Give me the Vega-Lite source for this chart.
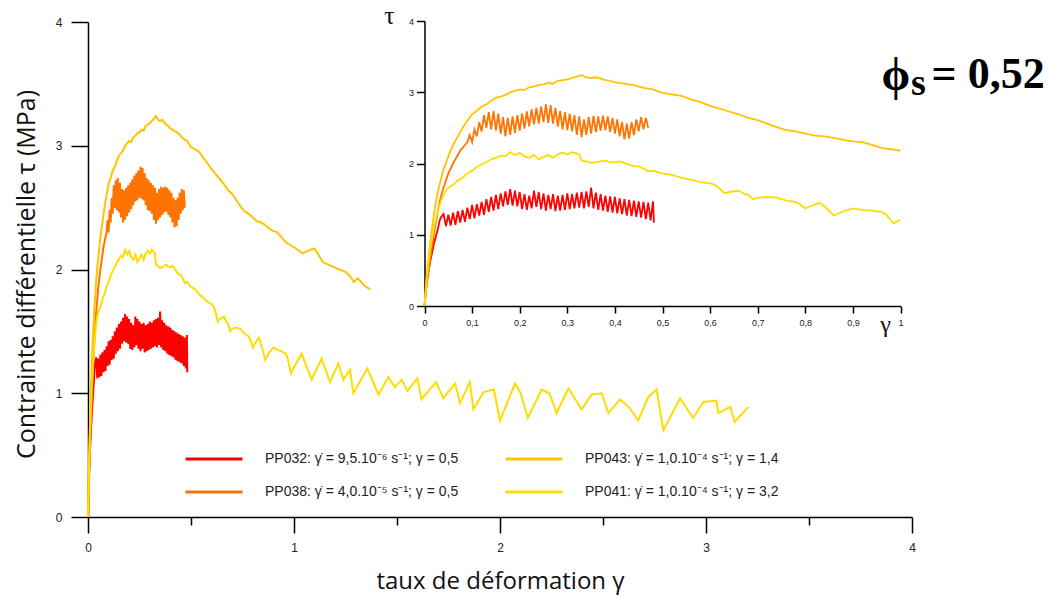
{
  "$schema": "https://vega.github.io/schema/vega-lite/v6.json",
  "width": 824,
  "height": 495,
  "autosize": "none",
  "padding": {"left": 88, "top": 22, "right": 140, "bottom": 81},
  "background": "white",
  "config": {
    "view": {"stroke": null},
    "axis": {"grid": false, "domainColor": "#000", "domainWidth": 1.5, "tickColor": "#000", "tickWidth": 1.5, "labelColor": "#222", "labelFont": "Liberation Sans", "titleColor": "#111"},
    "legend": {"labelFont": "Liberation Sans"}
  },
  "datasets": {
    "curves": [
      {"s":"PP032","g":0,"t":0},{"s":"PP032","g":0.004,"t":0.3},{"s":"PP032","g":0.008,"t":0.5},{"s":"PP032","g":0.012,"t":0.62},{"s":"PP032","g":0.016,"t":0.75},{"s":"PP032","g":0.02,"t":0.88},{"s":"PP032","g":0.024,"t":0.98},{"s":"PP032","g":0.028,"t":1.08},{"s":"PP032","g":0.032,"t":1.2},{"s":"PP032","g":0.035,"t":1.25},
      {"s":"PP032","g":0.04,"t":1.29},{"s":"PP032","g":0.045,"t":1.12},{"s":"PP032","g":0.05,"t":1.28},{"s":"PP032","g":0.055,"t":1.13},{"s":"PP032","g":0.06,"t":1.31},{"s":"PP032","g":0.065,"t":1.14},{"s":"PP032","g":0.07,"t":1.33},{"s":"PP032","g":0.075,"t":1.17},{"s":"PP032","g":0.08,"t":1.35},{"s":"PP032","g":0.085,"t":1.18},
      {"s":"PP032","g":0.09,"t":1.38},{"s":"PP032","g":0.095,"t":1.22},{"s":"PP032","g":0.1,"t":1.42},{"s":"PP032","g":0.105,"t":1.23},{"s":"PP032","g":0.11,"t":1.43},{"s":"PP032","g":0.115,"t":1.27},{"s":"PP032","g":0.12,"t":1.46},{"s":"PP032","g":0.125,"t":1.28},{"s":"PP032","g":0.13,"t":1.5},{"s":"PP032","g":0.135,"t":1.32},
      {"s":"PP032","g":0.14,"t":1.53},{"s":"PP032","g":0.145,"t":1.34},{"s":"PP032","g":0.15,"t":1.56},{"s":"PP032","g":0.155,"t":1.36},{"s":"PP032","g":0.16,"t":1.58},{"s":"PP032","g":0.165,"t":1.4},{"s":"PP032","g":0.17,"t":1.61},{"s":"PP032","g":0.175,"t":1.42},{"s":"PP032","g":0.18,"t":1.64},{"s":"PP032","g":0.185,"t":1.41},
      {"s":"PP032","g":0.19,"t":1.62},{"s":"PP032","g":0.195,"t":1.4},{"s":"PP032","g":0.2,"t":1.6},{"s":"PP032","g":0.205,"t":1.36},{"s":"PP032","g":0.21,"t":1.57},{"s":"PP032","g":0.215,"t":1.35},{"s":"PP032","g":0.22,"t":1.55},{"s":"PP032","g":0.225,"t":1.37},{"s":"PP032","g":0.23,"t":1.62},{"s":"PP032","g":0.235,"t":1.39},
      {"s":"PP032","g":0.24,"t":1.6},{"s":"PP032","g":0.245,"t":1.36},{"s":"PP032","g":0.25,"t":1.58},{"s":"PP032","g":0.255,"t":1.34},{"s":"PP032","g":0.26,"t":1.56},{"s":"PP032","g":0.265,"t":1.36},{"s":"PP032","g":0.27,"t":1.57},{"s":"PP032","g":0.275,"t":1.33},{"s":"PP032","g":0.28,"t":1.55},{"s":"PP032","g":0.285,"t":1.34},
      {"s":"PP032","g":0.29,"t":1.56},{"s":"PP032","g":0.295,"t":1.35},{"s":"PP032","g":0.3,"t":1.58},{"s":"PP032","g":0.305,"t":1.36},{"s":"PP032","g":0.31,"t":1.57},{"s":"PP032","g":0.315,"t":1.37},{"s":"PP032","g":0.32,"t":1.59},{"s":"PP032","g":0.325,"t":1.38},{"s":"PP032","g":0.33,"t":1.6},{"s":"PP032","g":0.335,"t":1.37},
      {"s":"PP032","g":0.34,"t":1.61},{"s":"PP032","g":0.345,"t":1.39},{"s":"PP032","g":0.35,"t":1.66},{"s":"PP032","g":0.355,"t":1.37},{"s":"PP032","g":0.36,"t":1.59},{"s":"PP032","g":0.365,"t":1.35},{"s":"PP032","g":0.37,"t":1.57},{"s":"PP032","g":0.375,"t":1.34},{"s":"PP032","g":0.38,"t":1.55},{"s":"PP032","g":0.385,"t":1.32},
      {"s":"PP032","g":0.39,"t":1.54},{"s":"PP032","g":0.395,"t":1.31},{"s":"PP032","g":0.4,"t":1.53},{"s":"PP032","g":0.405,"t":1.3},{"s":"PP032","g":0.41,"t":1.51},{"s":"PP032","g":0.415,"t":1.29},{"s":"PP032","g":0.42,"t":1.5},{"s":"PP032","g":0.425,"t":1.27},{"s":"PP032","g":0.43,"t":1.49},{"s":"PP032","g":0.435,"t":1.26},
      {"s":"PP032","g":0.44,"t":1.48},{"s":"PP032","g":0.445,"t":1.25},{"s":"PP032","g":0.45,"t":1.47},{"s":"PP032","g":0.455,"t":1.24},{"s":"PP032","g":0.46,"t":1.46},{"s":"PP032","g":0.465,"t":1.22},{"s":"PP032","g":0.47,"t":1.45},{"s":"PP032","g":0.475,"t":1.2},{"s":"PP032","g":0.48,"t":1.47},{"s":"PP032","g":0.482,"t":1.17},

      {"s":"PP038","g":0,"t":0},{"s":"PP038","g":0.005,"t":0.3},{"s":"PP038","g":0.01,"t":0.55},{"s":"PP038","g":0.015,"t":0.8},{"s":"PP038","g":0.02,"t":1.02},{"s":"PP038","g":0.025,"t":1.22},{"s":"PP038","g":0.03,"t":1.4},{"s":"PP038","g":0.035,"t":1.55},{"s":"PP038","g":0.04,"t":1.66},{"s":"PP038","g":0.045,"t":1.76},
      {"s":"PP038","g":0.05,"t":1.86},{"s":"PP038","g":0.055,"t":1.93},{"s":"PP038","g":0.06,"t":2.0},{"s":"PP038","g":0.065,"t":2.06},{"s":"PP038","g":0.07,"t":2.12},{"s":"PP038","g":0.075,"t":2.18},{"s":"PP038","g":0.08,"t":2.22},{"s":"PP038","g":0.085,"t":2.26},{"s":"PP038","g":0.09,"t":2.3},
      {"s":"PP038","g":0.095,"t":2.4},{"s":"PP038","g":0.1,"t":2.3},{"s":"PP038","g":0.105,"t":2.48},{"s":"PP038","g":0.11,"t":2.38},{"s":"PP038","g":0.115,"t":2.58},{"s":"PP038","g":0.12,"t":2.45},{"s":"PP038","g":0.125,"t":2.68},{"s":"PP038","g":0.13,"t":2.5},{"s":"PP038","g":0.135,"t":2.72},{"s":"PP038","g":0.14,"t":2.48},
      {"s":"PP038","g":0.145,"t":2.74},{"s":"PP038","g":0.15,"t":2.46},{"s":"PP038","g":0.155,"t":2.7},{"s":"PP038","g":0.16,"t":2.42},{"s":"PP038","g":0.165,"t":2.65},{"s":"PP038","g":0.17,"t":2.38},{"s":"PP038","g":0.175,"t":2.64},{"s":"PP038","g":0.18,"t":2.4},{"s":"PP038","g":0.185,"t":2.66},{"s":"PP038","g":0.19,"t":2.43},
      {"s":"PP038","g":0.195,"t":2.68},{"s":"PP038","g":0.2,"t":2.46},{"s":"PP038","g":0.205,"t":2.7},{"s":"PP038","g":0.21,"t":2.49},{"s":"PP038","g":0.215,"t":2.73},{"s":"PP038","g":0.22,"t":2.52},{"s":"PP038","g":0.225,"t":2.76},{"s":"PP038","g":0.23,"t":2.55},{"s":"PP038","g":0.235,"t":2.78},{"s":"PP038","g":0.24,"t":2.56},
      {"s":"PP038","g":0.245,"t":2.8},{"s":"PP038","g":0.25,"t":2.58},{"s":"PP038","g":0.255,"t":2.83},{"s":"PP038","g":0.26,"t":2.57},{"s":"PP038","g":0.265,"t":2.82},{"s":"PP038","g":0.27,"t":2.56},{"s":"PP038","g":0.275,"t":2.78},{"s":"PP038","g":0.28,"t":2.52},{"s":"PP038","g":0.285,"t":2.74},{"s":"PP038","g":0.29,"t":2.48},
      {"s":"PP038","g":0.295,"t":2.72},{"s":"PP038","g":0.3,"t":2.47},{"s":"PP038","g":0.305,"t":2.7},{"s":"PP038","g":0.31,"t":2.45},{"s":"PP038","g":0.315,"t":2.68},{"s":"PP038","g":0.32,"t":2.4},{"s":"PP038","g":0.325,"t":2.66},{"s":"PP038","g":0.33,"t":2.37},{"s":"PP038","g":0.335,"t":2.62},{"s":"PP038","g":0.34,"t":2.4},
      {"s":"PP038","g":0.345,"t":2.65},{"s":"PP038","g":0.35,"t":2.42},{"s":"PP038","g":0.355,"t":2.67},{"s":"PP038","g":0.36,"t":2.44},{"s":"PP038","g":0.365,"t":2.66},{"s":"PP038","g":0.37,"t":2.46},{"s":"PP038","g":0.375,"t":2.67},{"s":"PP038","g":0.38,"t":2.47},{"s":"PP038","g":0.385,"t":2.66},{"s":"PP038","g":0.39,"t":2.44},
      {"s":"PP038","g":0.395,"t":2.64},{"s":"PP038","g":0.4,"t":2.42},{"s":"PP038","g":0.405,"t":2.62},{"s":"PP038","g":0.41,"t":2.38},{"s":"PP038","g":0.415,"t":2.58},{"s":"PP038","g":0.42,"t":2.34},{"s":"PP038","g":0.425,"t":2.56},{"s":"PP038","g":0.43,"t":2.35},{"s":"PP038","g":0.435,"t":2.58},{"s":"PP038","g":0.44,"t":2.4},
      {"s":"PP038","g":0.445,"t":2.62},{"s":"PP038","g":0.45,"t":2.45},{"s":"PP038","g":0.455,"t":2.65},{"s":"PP038","g":0.46,"t":2.48},{"s":"PP038","g":0.465,"t":2.64},{"s":"PP038","g":0.47,"t":2.5},

      {"s":"PP043","g":0,"t":0},{"s":"PP043","g":0.005,"t":0.45},{"s":"PP043","g":0.01,"t":0.78},{"s":"PP043","g":0.015,"t":1.05},{"s":"PP043","g":0.02,"t":1.3},{"s":"PP043","g":0.025,"t":1.5},{"s":"PP043","g":0.03,"t":1.66},{"s":"PP043","g":0.04,"t":1.92},{"s":"PP043","g":0.05,"t":2.1},{"s":"PP043","g":0.06,"t":2.26},
      {"s":"PP043","g":0.07,"t":2.38},{"s":"PP043","g":0.08,"t":2.5},{"s":"PP043","g":0.09,"t":2.6},{"s":"PP043","g":0.1,"t":2.69},{"s":"PP043","g":0.11,"t":2.74},{"s":"PP043","g":0.12,"t":2.8},{"s":"PP043","g":0.13,"t":2.83},{"s":"PP043","g":0.14,"t":2.88},{"s":"PP043","g":0.15,"t":2.92},{"s":"PP043","g":0.16,"t":2.94},
      {"s":"PP043","g":0.17,"t":2.96},{"s":"PP043","g":0.18,"t":3.0},{"s":"PP043","g":0.19,"t":3.02},{"s":"PP043","g":0.2,"t":3.04},{"s":"PP043","g":0.21,"t":3.03},{"s":"PP043","g":0.22,"t":3.07},{"s":"PP043","g":0.23,"t":3.08},{"s":"PP043","g":0.24,"t":3.1},{"s":"PP043","g":0.25,"t":3.11},{"s":"PP043","g":0.26,"t":3.13},
      {"s":"PP043","g":0.27,"t":3.12},{"s":"PP043","g":0.28,"t":3.16},{"s":"PP043","g":0.29,"t":3.17},{"s":"PP043","g":0.3,"t":3.18},{"s":"PP043","g":0.31,"t":3.2},{"s":"PP043","g":0.32,"t":3.22},{"s":"PP043","g":0.33,"t":3.24},{"s":"PP043","g":0.34,"t":3.21},{"s":"PP043","g":0.35,"t":3.2},{"s":"PP043","g":0.36,"t":3.21},
      {"s":"PP043","g":0.37,"t":3.19},{"s":"PP043","g":0.38,"t":3.17},{"s":"PP043","g":0.39,"t":3.16},{"s":"PP043","g":0.4,"t":3.14},{"s":"PP043","g":0.42,"t":3.12},{"s":"PP043","g":0.44,"t":3.1},{"s":"PP043","g":0.46,"t":3.06},{"s":"PP043","g":0.48,"t":3.04},{"s":"PP043","g":0.5,"t":2.99},{"s":"PP043","g":0.52,"t":2.97},
      {"s":"PP043","g":0.54,"t":2.95},{"s":"PP043","g":0.56,"t":2.9},{"s":"PP043","g":0.58,"t":2.86},{"s":"PP043","g":0.6,"t":2.81},{"s":"PP043","g":0.62,"t":2.77},{"s":"PP043","g":0.64,"t":2.73},{"s":"PP043","g":0.66,"t":2.69},{"s":"PP043","g":0.68,"t":2.64},{"s":"PP043","g":0.7,"t":2.61},{"s":"PP043","g":0.72,"t":2.56},
      {"s":"PP043","g":0.74,"t":2.51},{"s":"PP043","g":0.76,"t":2.47},{"s":"PP043","g":0.78,"t":2.45},{"s":"PP043","g":0.8,"t":2.42},{"s":"PP043","g":0.82,"t":2.39},{"s":"PP043","g":0.84,"t":2.38},{"s":"PP043","g":0.86,"t":2.36},{"s":"PP043","g":0.88,"t":2.33},{"s":"PP043","g":0.9,"t":2.31},{"s":"PP043","g":0.92,"t":2.3},
      {"s":"PP043","g":0.94,"t":2.26},{"s":"PP043","g":0.96,"t":2.22},{"s":"PP043","g":0.98,"t":2.2},{"s":"PP043","g":1.0,"t":2.18},{"s":"PP043","g":1.04,"t":2.13},{"s":"PP043","g":1.08,"t":2.16},{"s":"PP043","g":1.1,"t":2.17},{"s":"PP043","g":1.14,"t":2.06},{"s":"PP043","g":1.18,"t":2.03},{"s":"PP043","g":1.22,"t":2.0},
      {"s":"PP043","g":1.25,"t":1.98},{"s":"PP043","g":1.27,"t":1.95},{"s":"PP043","g":1.29,"t":1.9},{"s":"PP043","g":1.31,"t":1.93},{"s":"PP043","g":1.34,"t":1.87},{"s":"PP043","g":1.37,"t":1.84},

      {"s":"PP041","g":0,"t":0},{"s":"PP041","g":0.005,"t":0.4},{"s":"PP041","g":0.01,"t":0.7},{"s":"PP041","g":0.015,"t":0.92},{"s":"PP041","g":0.02,"t":1.1},{"s":"PP041","g":0.025,"t":1.26},{"s":"PP041","g":0.03,"t":1.38},{"s":"PP041","g":0.035,"t":1.48},{"s":"PP041","g":0.04,"t":1.56},{"s":"PP041","g":0.045,"t":1.62},
      {"s":"PP041","g":0.05,"t":1.66},{"s":"PP041","g":0.06,"t":1.7},{"s":"PP041","g":0.07,"t":1.76},{"s":"PP041","g":0.08,"t":1.8},{"s":"PP041","g":0.09,"t":1.86},{"s":"PP041","g":0.1,"t":1.9},{"s":"PP041","g":0.11,"t":1.95},{"s":"PP041","g":0.12,"t":1.99},{"s":"PP041","g":0.13,"t":2.02},{"s":"PP041","g":0.14,"t":2.06},
      {"s":"PP041","g":0.15,"t":2.08},{"s":"PP041","g":0.16,"t":2.11},{"s":"PP041","g":0.17,"t":2.1},{"s":"PP041","g":0.18,"t":2.16},{"s":"PP041","g":0.19,"t":2.12},{"s":"PP041","g":0.2,"t":2.15},{"s":"PP041","g":0.21,"t":2.1},{"s":"PP041","g":0.22,"t":2.08},{"s":"PP041","g":0.23,"t":2.12},{"s":"PP041","g":0.24,"t":2.06},
      {"s":"PP041","g":0.25,"t":2.09},{"s":"PP041","g":0.26,"t":2.12},{"s":"PP041","g":0.27,"t":2.08},{"s":"PP041","g":0.28,"t":2.13},{"s":"PP041","g":0.29,"t":2.15},{"s":"PP041","g":0.3,"t":2.13},{"s":"PP041","g":0.31,"t":2.16},{"s":"PP041","g":0.32,"t":2.14},{"s":"PP041","g":0.325,"t":2.13},{"s":"PP041","g":0.33,"t":2.04},
      {"s":"PP041","g":0.34,"t":2.03},{"s":"PP041","g":0.35,"t":2.01},{"s":"PP041","g":0.36,"t":2.02},{"s":"PP041","g":0.37,"t":2.03},{"s":"PP041","g":0.38,"t":2.04},{"s":"PP041","g":0.39,"t":2.02},{"s":"PP041","g":0.4,"t":2.02},{"s":"PP041","g":0.41,"t":2.03},{"s":"PP041","g":0.42,"t":2.01},{"s":"PP041","g":0.43,"t":1.98},
      {"s":"PP041","g":0.44,"t":1.96},{"s":"PP041","g":0.45,"t":1.96},{"s":"PP041","g":0.46,"t":1.93},{"s":"PP041","g":0.47,"t":1.89},{"s":"PP041","g":0.48,"t":1.9},{"s":"PP041","g":0.49,"t":1.88},{"s":"PP041","g":0.5,"t":1.86},{"s":"PP041","g":0.52,"t":1.84},{"s":"PP041","g":0.54,"t":1.8},{"s":"PP041","g":0.56,"t":1.77},
      {"s":"PP041","g":0.58,"t":1.74},{"s":"PP041","g":0.6,"t":1.72},{"s":"PP041","g":0.61,"t":1.7},{"s":"PP041","g":0.62,"t":1.65},{"s":"PP041","g":0.63,"t":1.58},{"s":"PP041","g":0.64,"t":1.6},{"s":"PP041","g":0.66,"t":1.62},{"s":"PP041","g":0.67,"t":1.58},{"s":"PP041","g":0.68,"t":1.56},{"s":"PP041","g":0.69,"t":1.5},
      {"s":"PP041","g":0.7,"t":1.52},{"s":"PP041","g":0.72,"t":1.53},{"s":"PP041","g":0.74,"t":1.52},{"s":"PP041","g":0.76,"t":1.48},{"s":"PP041","g":0.78,"t":1.46},{"s":"PP041","g":0.79,"t":1.42},{"s":"PP041","g":0.8,"t":1.37},{"s":"PP041","g":0.81,"t":1.4},{"s":"PP041","g":0.83,"t":1.45},{"s":"PP041","g":0.84,"t":1.4},
      {"s":"PP041","g":0.86,"t":1.27},{"s":"PP041","g":0.88,"t":1.33},{"s":"PP041","g":0.9,"t":1.37},{"s":"PP041","g":0.92,"t":1.35},{"s":"PP041","g":0.94,"t":1.34},{"s":"PP041","g":0.96,"t":1.32},{"s":"PP041","g":0.97,"t":1.28},{"s":"PP041","g":0.98,"t":1.2},{"s":"PP041","g":0.985,"t":1.16},{"s":"PP041","g":0.99,"t":1.18},
      {"s":"PP041","g":1.0,"t":1.21},{"s":"PP041","g":1.037,"t":1.32},{"s":"PP041","g":1.086,"t":1.11},{"s":"PP041","g":1.134,"t":1.28},{"s":"PP041","g":1.175,"t":1.09},{"s":"PP041","g":1.215,"t":1.24},{"s":"PP041","g":1.24,"t":1.11},{"s":"PP041","g":1.272,"t":1.19},{"s":"PP041","g":1.288,"t":1.0},{"s":"PP041","g":1.356,"t":1.2},
      {"s":"PP041","g":1.41,"t":0.99},{"s":"PP041","g":1.458,"t":1.13},{"s":"PP041","g":1.49,"t":1.05},{"s":"PP041","g":1.523,"t":1.11},{"s":"PP041","g":1.55,"t":1.02},{"s":"PP041","g":1.599,"t":1.12},{"s":"PP041","g":1.619,"t":0.95},{"s":"PP041","g":1.689,"t":1.09},{"s":"PP041","g":1.725,"t":0.96},{"s":"PP041","g":1.782,"t":1.08},
      {"s":"PP041","g":1.806,"t":0.92},{"s":"PP041","g":1.854,"t":1.09},{"s":"PP041","g":1.871,"t":0.87},{"s":"PP041","g":1.92,"t":1.01},{"s":"PP041","g":1.97,"t":1.03},{"s":"PP041","g":2.0,"t":0.78},{"s":"PP041","g":2.073,"t":1.08},{"s":"PP041","g":2.1,"t":1.0},{"s":"PP041","g":2.135,"t":0.8},{"s":"PP041","g":2.202,"t":1.03},
      {"s":"PP041","g":2.24,"t":1.0},{"s":"PP041","g":2.275,"t":0.84},{"s":"PP041","g":2.332,"t":1.04},{"s":"PP041","g":2.396,"t":0.87},{"s":"PP041","g":2.445,"t":0.99},{"s":"PP041","g":2.494,"t":1.0},{"s":"PP041","g":2.526,"t":0.84},{"s":"PP041","g":2.583,"t":0.95},{"s":"PP041","g":2.63,"t":0.88},{"s":"PP041","g":2.671,"t":0.78},
      {"s":"PP041","g":2.72,"t":0.97},{"s":"PP041","g":2.76,"t":1.03},{"s":"PP041","g":2.793,"t":0.7},{"s":"PP041","g":2.874,"t":0.96},{"s":"PP041","g":2.938,"t":0.8},{"s":"PP041","g":2.987,"t":0.93},{"s":"PP041","g":3.05,"t":0.94},{"s":"PP041","g":3.06,"t":0.84},{"s":"PP041","g":3.117,"t":0.89},{"s":"PP041","g":3.14,"t":0.77},
      {"s":"PP041","g":3.205,"t":0.89}
    ]
  },
  "layer": [
    {
      "layer": [
        {
          "data": {"name": "curves"},
          "mark": {"type": "line", "strokeWidth": 2, "clip": false},
          "encoding": {
            "x": {"field": "g", "type": "quantitative", "scale": {"domain": [0, 4], "nice": false, "zero": false},
              "axis": {"values": [0, 0.5, 1, 1.5, 2, 2.5, 3, 3.5, 4], "labelExpr": "datum.value % 1 === 0 ? format(datum.value, 'd') : ''",
                "tickSize": {"condition": {"test": "datum.value % 1 !== 0", "value": 8}, "value": 16},
                "labelPadding": 9, "labelFontSize": 12, "labelFlush": false,
                "title": "taux de déformation γ", "titleFont": "Open Sans", "titleFontSize": 24, "titleFontWeight": "normal",
                "titleX": 412, "titleY": 71, "titleBaseline": "alphabetic", "titleAlign": "center", "titleAnchor": null}},
            "y": {"field": "t", "type": "quantitative", "scale": {"domain": [0, 4], "nice": false},
              "axis": {"values": [0, 1, 2, 3, 4], "format": "d", "tickSize": 17, "labelPadding": 9, "labelFontSize": 12, "labelFlush": false,
                "title": "Contrainte différentielle τ (MPa)", "titleFont": "Open Sans", "titleFontSize": 25, "titleFontWeight": "normal",
                "titleX": -54, "titleY": 252, "titleAngle": -90, "titleBaseline": "alphabetic", "titleAlign": "center", "titleAnchor": null}},
            "color": {"field": "s", "type": "nominal",
              "scale": {"domain": ["PP032", "PP038", "PP043", "PP041"], "range": ["#FF0000", "#FF7400", "#FFC400", "#FFDD00"]},
              "legend": {"title": null, "orient": "none", "legendX": 96, "legendY": 429, "columns": 2, "columnPadding": 45, "rowPadding": 17,
                "symbolType": "stroke", "symbolSize": 3249, "symbolStrokeWidth": 3, "clipHeight": 16, "labelOffset": 21,
                "labelFontSize": 14, "labelColor": "#222", "labelLimit": 400,
                "labelExpr": "datum.label == 'PP032' ? 'PP032: γ̇ = 9,5.10⁻⁶ s⁻¹; γ = 0,5' : datum.label == 'PP038' ? 'PP038: γ̇ = 4,0.10⁻⁵ s⁻¹; γ = 0,5' : datum.label == 'PP043' ? 'PP043: γ̇ = 1,0.10⁻⁴ s⁻¹; γ = 1,4' : 'PP041: γ̇ = 1,0.10⁻⁴ s⁻¹; γ = 3,2'"}}
          }
        },
        {
          "data": {"values": [{"txt": "ϕ", "g": 3.852, "t": 3.45}]},
          "mark": {"type": "text", "font": "Liberation Serif", "fontWeight": "bold", "fontSize": 46, "align": "left", "baseline": "alphabetic", "color": "#000", "clip": false},
          "encoding": {"x": {"field": "g", "type": "quantitative"}, "y": {"field": "t", "type": "quantitative"}, "text": {"field": "txt"}}
        },
        {
          "data": {"values": [{"txt": "s", "g": 3.995, "t": 3.41}]},
          "mark": {"type": "text", "font": "Liberation Serif", "fontWeight": "bold", "fontSize": 38, "align": "left", "baseline": "alphabetic", "color": "#000", "clip": false},
          "encoding": {"x": {"field": "g", "type": "quantitative"}, "y": {"field": "t", "type": "quantitative"}, "text": {"field": "txt"}}
        },
        {
          "data": {"values": [{"txt": "= 0,52", "g": 4.095, "t": 3.464}]},
          "mark": {"type": "text", "font": "Liberation Serif", "fontWeight": "bold", "fontSize": 44, "align": "left", "baseline": "alphabetic", "color": "#000", "clip": false},
          "encoding": {"x": {"field": "g", "type": "quantitative"}, "y": {"field": "t", "type": "quantitative"}, "text": {"field": "txt"}}
        }
      ]
    },
    {
      "data": {"name": "curves"},
      "transform": [{"filter": "datum.g <= 1.001"}],
      "mark": {"type": "line", "strokeWidth": 1.8, "clip": false},
      "encoding": {
        "x": {"field": "g", "type": "quantitative", "scale": {"domain": [0, 1], "range": [336.5, 812.5], "nice": false, "zero": false},
          "axis": {"orient": "bottom", "offset": -211, "values": [0, 0.1, 0.2, 0.3, 0.4, 0.5, 0.6, 0.7, 0.8, 0.9, 1],
            "labelExpr": "replace(format(datum.value, '.1~f'), '.', ',')", "tickSize": 7, "labelPadding": 5, "labelFontSize": 9, "labelFlush": false,
            "title": "γ", "titleFont": "Liberation Serif", "titleFontSize": 24, "titleFontWeight": "normal",
            "titleX": 797, "titleY": 25, "titleBaseline": "alphabetic", "titleAlign": "center", "titleAnchor": null}},
        "y": {"field": "t", "type": "quantitative", "scale": {"domain": [0, 4], "range": [284, -1], "nice": false},
          "axis": {"orient": "left", "offset": -336.5, "values": [0, 1, 2, 3, 4], "tickSize": 8, "labelPadding": 3, "labelFontSize": 9, "labelFlush": false,
            "title": "τ", "titleFont": "Liberation Serif", "titleFontSize": 26, "titleFontWeight": "normal",
            "titleX": -35.5, "titleY": 1, "titleAngle": 0, "titleBaseline": "alphabetic", "titleAlign": "center", "titleAnchor": null}},
        "color": {"field": "s", "type": "nominal", "legend": null}
      }
    }
  ],
  "resolve": {"scale": {"x": "independent", "y": "independent"}}
}
